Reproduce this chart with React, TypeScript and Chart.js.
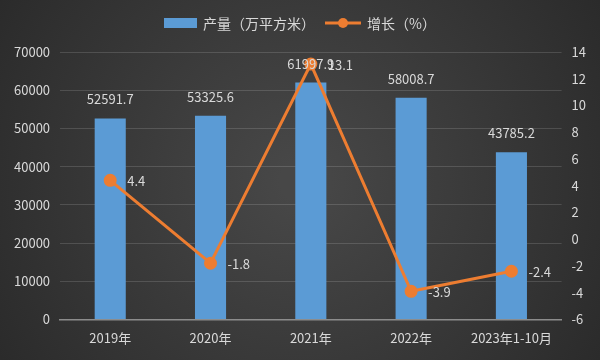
import React, { useEffect, useRef } from "react";
import { Chart, registerables } from "chart.js";

Chart.register(...registerables);

const categories = ["2019年", "2020年", "2021年", "2022年", "2023年1-10月"];
const production = [52591.7, 53325.6, 61997.9, 58008.7, 43785.2];
const growth = [4.4, -1.8, 13.1, -3.9, -2.4];
const barLabel = "产量（万平方米）";
const lineLabel = "增长（%）";

const FONT = "'Noto Sans CJK SC', 'Noto Sans', sans-serif";
const TEXT = "#d9d9d9";
const BLUE = "#5b9bd5";
const ORANGE = "#ed7d31";

const bgPlugin = {
  id: "bg",
  beforeDraw(chart: any) {
    const { ctx, width, height } = chart;
    ctx.save();
    const g = ctx.createRadialGradient(width / 2, height / 2, 20, width / 2, height / 2, width * 0.6);
    g.addColorStop(0, "#474747");
    g.addColorStop(1, "#2a2a2a");
    ctx.fillStyle = g;
    ctx.fillRect(0, 0, width, height);
    ctx.restore();
  },
};

const labelPlugin = {
  id: "labels",
  afterDatasetsDraw(chart: any) {
    const { ctx } = chart;
    ctx.save();
    ctx.font = `13px ${FONT}`;
    ctx.fillStyle = TEXT;
    const barMeta = chart.getDatasetMeta(0);
    barMeta.data.forEach((el: any, i: number) => {
      ctx.textAlign = "center";
      ctx.textBaseline = "middle";
      ctx.fillText(String(production[i]), el.x, el.y - 19);
    });
    const lineMeta = chart.getDatasetMeta(1);
    lineMeta.data.forEach((el: any, i: number) => {
      ctx.textAlign = "left";
      ctx.textBaseline = "middle";
      ctx.fillText(String(growth[i]), el.x + 17, el.y + 1);
    });
    ctx.restore();
  },
};

const legendPlugin = {
  id: "customLegend",
  afterDraw(chart: any) {
    const { ctx } = chart;
    ctx.save();
    const y = 23;
    ctx.fillStyle = BLUE;
    ctx.fillRect(164, y - 5, 33, 10);
    ctx.font = `14px ${FONT}`;
    ctx.fillStyle = TEXT;
    ctx.textAlign = "left";
    ctx.textBaseline = "middle";
    ctx.fillText(barLabel, 203, y + 1);
    ctx.strokeStyle = ORANGE;
    ctx.lineWidth = 3;
    ctx.beginPath();
    ctx.moveTo(325, y);
    ctx.lineTo(361, y);
    ctx.stroke();
    ctx.fillStyle = ORANGE;
    ctx.beginPath();
    ctx.arc(343, y, 5, 0, Math.PI * 2);
    ctx.fill();
    ctx.fillStyle = TEXT;
    ctx.fillText(lineLabel, 367, y + 1);
    ctx.restore();
  },
};

export default function App() {
  const ref = useRef<HTMLCanvasElement>(null);
  useEffect(() => {
    if (!ref.current) return;
    const chart = new Chart(ref.current, {
      type: "bar",
      data: {
        labels: categories,
        datasets: [
          {
            type: "bar",
            label: barLabel,
            data: production,
            backgroundColor: BLUE,
            yAxisID: "y",
            barPercentage: 0.62,
            categoryPercentage: 0.5,
            order: 2,
          },
          {
            type: "line",
            label: lineLabel,
            data: growth,
            borderColor: ORANGE,
            backgroundColor: ORANGE,
            borderWidth: 3,
            pointRadius: 5,
            pointBackgroundColor: ORANGE,
            pointBorderColor: ORANGE,
            yAxisID: "y1",
            tension: 0,
            order: 1,
          },
        ],
      },
      options: {
        animation: false,
        responsive: false,
        layout: { padding: { top: 52, left: 4, right: 4, bottom: 11 } },
        plugins: { legend: { display: false }, tooltip: { enabled: false } },
        scales: {
          x: {
            grid: { display: false },
            border: { color: "#8c8c8c", width: 1.5 },
            ticks: { color: TEXT, font: { size: 13, family: FONT }, padding: 3 },
          },
          y: {
            position: "left",
            min: 0,
            max: 70000,
            ticks: {
              stepSize: 10000,
              color: TEXT,
              font: { size: 13, family: FONT },
              padding: 10,
              callback: (v: any) => String(v),
            },
            grid: { color: "rgba(255,255,255,0.14)", drawTicks: false },
            border: { display: false },
          },
          y1: {
            position: "right",
            min: -6,
            max: 14,
            ticks: {
              stepSize: 2,
              color: TEXT,
              font: { size: 13, family: FONT },
              padding: 10,
              callback: (v: any) => String(v),
            },
            grid: { display: false, drawTicks: false },
            border: { display: false },
          },
        },
      },
      plugins: [bgPlugin, labelPlugin, legendPlugin],
    });
    return () => chart.destroy();
  }, []);
  return (
    <div style={{ position: "fixed", left: 0, top: 0, width: 600, height: 360 }}>
      <canvas ref={ref} width={600} height={360} style={{ width: 600, height: 360 }} />
    </div>
  );
}
